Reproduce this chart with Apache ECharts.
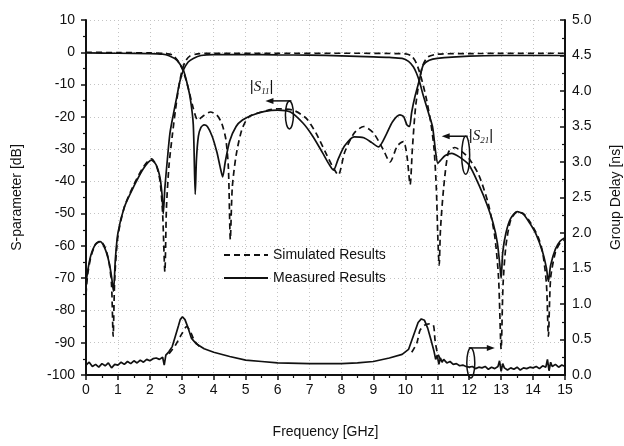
<!DOCTYPE html>
<html>
<head>
<meta charset="utf-8">
<script src="https://cdn.jsdelivr.net/npm/echarts@6/dist/echarts.min.js"></script>
<style>
  html, body { margin: 0; padding: 0; background: #fff; }
  #main { width: 624px; height: 446px; }
</style>
</head>
<body>
<div id="main"></div>
<script>
// measured |S21| (dB)
const s21MeasF = [0, 0.05, 0.15, 0.3, 0.45, 0.6, 0.72, 0.8, 0.86, 0.92, 1.0, 1.2, 1.5, 1.8, 2.05, 2.2, 2.32, 2.38, 2.42, 2.47, 2.55, 2.63, 2.74, 2.84, 2.94, 3.05, 3.2, 3.36, 3.6, 4, 5, 6, 7, 8, 9, 9.5, 9.9, 10.1, 10.25, 10.35, 10.44, 10.55, 10.7, 10.85, 10.95, 11.02, 11.1, 11.25, 11.45, 11.7, 12.0, 12.3, 12.55, 12.75, 12.88, 12.96, 13.0, 13.05, 13.15, 13.3, 13.5, 13.7, 13.9, 14.1, 14.3, 14.42, 14.48, 14.55, 14.7, 14.85, 15];
const s21Meas  = [-72, -68, -63, -59.5, -58.7, -61, -65, -69.5, -74, -64, -56, -48, -41.5, -36, -33.4, -35, -39, -44, -50, -42, -33, -25, -19, -14, -9, -5.5, -3, -1.9, -1, -0.7, -0.7, -0.8, -0.9, -1.1, -1.4, -1.6, -1.9, -2.8, -4.5, -6.5, -9, -13, -18, -23, -31, -34.4, -33.5, -32, -31.3, -32.5, -35, -41, -47, -53, -59, -66, -70, -62, -56, -51.5, -49.4, -50.2, -53, -56.5, -62, -67, -71, -66, -61, -58.5, -57.5];
// simulated |S21| (dB)
const s21SimF = [0, 0.05, 0.15, 0.3, 0.45, 0.6, 0.72, 0.8, 0.85, 0.9, 1.0, 1.2, 1.5, 1.8, 2.05, 2.2, 2.32, 2.4, 2.47, 2.52, 2.6, 2.7, 2.8, 2.9, 3.0, 3.1, 3.25, 3.5, 4, 6, 8, 10, 10.2, 10.35, 10.5, 10.65, 10.8, 10.9, 10.97, 11.02, 11.06, 11.1, 11.2, 11.35, 11.55, 11.8, 12.0, 12.3, 12.6, 12.8, 12.92, 13.0, 13.06, 13.15, 13.3, 13.5, 13.7, 13.9, 14.15, 14.3, 14.42, 14.48, 14.55, 14.7, 14.85, 15];
const s21Sim  = [-75, -69, -63.5, -59.5, -58.5, -60.5, -65, -72, -88, -70, -57, -48, -41, -35.5, -33, -35, -40, -50, -68, -48, -35, -26, -18, -11, -6, -3, -1.2, -0.5, -0.3, -0.3, -0.3, -0.5, -1.2, -3.5, -8, -14, -22, -30, -42, -58, -66, -55, -42, -31, -29.5, -31, -33, -38, -47, -57, -70, -92, -72, -60, -52, -49.5, -50, -52.5, -57, -62, -72, -88, -70, -62, -59, -58];
// measured |S11| (dB)
const s11MeasF = [0, 1, 2, 2.4, 2.6, 2.84, 2.95, 3.05, 3.15, 3.26, 3.36, 3.42, 3.46, 3.52, 3.6, 3.7, 3.8, 3.95, 4.1, 4.2, 4.28, 4.36, 4.5, 4.7, 4.9, 5.2, 5.6, 6.0, 6.4, 6.8, 7.1, 7.4, 7.6, 7.75, 7.9, 8.1, 8.4, 8.7, 8.95, 9.16, 9.4, 9.6, 9.83, 9.95, 10.05, 10.13, 10.2, 10.3, 10.44, 10.56, 10.75, 11.0, 12, 13, 14, 15];
const s11Meas  = [-0.2, -0.3, -0.4, -0.6, -1.1, -2.4, -3.8, -5.5, -9, -14, -22.5, -44, -33, -26, -23.3, -22.5, -23, -26, -31, -35.5, -38.6, -34, -27.5, -23, -21, -19.5, -18.3, -17.9, -18.5, -22, -26, -31, -34.5, -36.5, -33, -29, -26.2, -26.5, -28, -29.3, -25.5, -21.5, -19.4, -20, -22.5, -23, -18.5, -13.8, -8.6, -4, -2.5, -1.9, -1.2, -1.0, -1.0, -1.0];
// simulated |S11| (dB)
const s11SimF = [0, 1, 2, 2.5, 2.7, 2.9, 3.05, 3.2, 3.35, 3.5, 3.7, 3.9, 4.1, 4.25, 4.38, 4.46, 4.52, 4.58, 4.7, 4.88, 5.1, 5.5, 6.0, 6.5, 6.9, 7.2, 7.5, 7.7, 7.9, 8.1, 8.4, 8.7, 9.0, 9.3, 9.52, 9.75, 9.94, 10.05, 10.15, 10.22, 10.32, 10.45, 10.55, 10.7, 11, 12, 15];
const s11Sim  = [0, -0.1, -0.2, -0.4, -0.8, -3, -6, -11, -17, -21, -19.5, -18.5, -19.5, -22, -27, -36, -58, -42, -32, -24, -20, -18.5, -17.5, -18, -20.5, -25, -31, -35, -38, -31, -25, -23, -25, -30, -34, -29, -27.7, -32, -41, -30, -17, -8, -4, -1.5, -0.6, -0.4, -0.3];
// measured group delay (ns)
const gdMeasF = [0, 0.1, 0.2, 0.3, 0.4, 0.5, 0.6, 0.7, 0.8, 0.9, 1.0, 1.1, 1.2, 1.3, 1.4, 1.5, 1.6, 1.7, 1.8, 1.9, 2.0, 2.1, 2.2, 2.3, 2.4, 2.45, 2.5, 2.6, 2.7, 2.8, 2.9, 2.95, 3.02, 3.1, 3.2, 3.3, 3.45, 3.7, 4.0, 4.5, 5.0, 5.5, 6.0, 7.0, 8.0, 8.5, 9.0, 9.5, 9.9, 10.1, 10.25, 10.4, 10.5, 10.6, 10.7, 10.8, 10.9, 10.95, 11.0, 11.05, 11.1, 11.15, 11.2, 11.3, 11.4, 11.5, 11.6, 11.7, 11.8, 11.9, 12.0, 12.1, 12.2, 12.3, 12.4, 12.5, 12.6, 12.7, 12.8, 12.9, 12.95, 13.0, 13.05, 13.1, 13.2, 13.3, 13.4, 13.5, 13.6, 13.7, 13.8, 13.9, 14.0, 14.1, 14.2, 14.3, 14.4, 14.45, 14.5, 14.55, 14.6, 14.7, 14.8, 14.9, 15.0];
const gdMeas  = [0.14, 0.18, 0.12, 0.15, 0.11, 0.16, 0.13, 0.17, 0.10, 0.15, 0.14, 0.18, 0.15, 0.19, 0.16, 0.20, 0.17, 0.21, 0.18, 0.22, 0.20, 0.23, 0.24, 0.22, 0.25, 0.14, 0.28, 0.33, 0.40, 0.55, 0.70, 0.78, 0.82, 0.78, 0.66, 0.52, 0.44, 0.37, 0.32, 0.26, 0.21, 0.19, 0.17, 0.16, 0.16, 0.17, 0.19, 0.24, 0.29, 0.36, 0.55, 0.74, 0.79, 0.77, 0.66, 0.50, 0.33, 0.22, 0.28, 0.15, 0.24, 0.18, 0.22, 0.17, 0.19, 0.15, 0.16, 0.13, 0.14, 0.12, 0.11, 0.12, 0.09, 0.11, 0.10, 0.12, 0.08, 0.11, 0.09, 0.12, 0.20, 0.05, 0.16, 0.10, 0.07, 0.10, 0.08, 0.11, 0.07, 0.10, 0.09, 0.11, 0.10, 0.12, 0.09, 0.13, 0.11, 0.22, 0.06, 0.18, 0.12, 0.15, 0.11, 0.14, 0.12];
// simulated group delay (ns), only where it separates from the measurement
const gdSimF = [2.6, 2.8, 3.0, 3.15, 3.25, 3.4, 3.6, null, 10.2, 10.36, 10.46, 10.6, 10.75, 10.88, 10.93, 11.0, 11.1];
const gdSim  = [0.30, 0.42, 0.58, 0.68, 0.63, 0.48, 0.38, null, 0.32, 0.45, 0.63, 0.70, 0.72, 0.70, 0.49, 0.32, 0.22];

const xTicks = [0, 15, 1];
const dbTicks = [-100, 10, 10];
const gdTicks = [0, 5, 0.5];

const zip = (f, v) => f.map((x, i) => [x, v[i]]);
const ink = '#111';
const font = 'Liberation Sans, Arial, sans-serif';

const solid = { color: ink, width: 1.7, type: 'solid' };
const dashed = { color: ink, width: 1.7, type: [6, 4] };
const grid = { color: '#c4c4c4', type: [1, 3], width: 1 };

function line(name, data, style, yAxisIndex) {
  return {
    name: name, type: 'line', data: data, yAxisIndex: yAxisIndex,
    symbol: 'none', smooth: 0.25, connectNulls: false,
    lineStyle: style, itemStyle: { color: ink }, z: 3
  };
}

const chart = echarts.init(document.getElementById('main'), null, { renderer: 'canvas' });

const option = {
  animation: false,
  backgroundColor: '#fff',
  textStyle: { fontFamily: font, color: ink },
  grid: { left: 86, right: 59, top: 20, bottom: 71, containLabel: false, outerBoundsMode: 'none' },
  legend: {
    orient: 'vertical', left: 218, top: 243, itemGap: 9,
    itemWidth: 44, itemHeight: 14,
    data: ['Simulated Results', 'Measured Results'],
    itemStyle: { opacity: 0 },
    textStyle: { fontSize: 14, color: ink, fontFamily: font }
  },
  xAxis: {
    type: 'value', min: xTicks[0], max: xTicks[1], interval: xTicks[2],
    name: 'Frequency [GHz]', nameLocation: 'middle', nameGap: 50,
    nameTextStyle: { fontSize: 14, color: ink },
    axisLine: { onZero: false, lineStyle: { color: ink, width: 2 } },
    axisTick: { length: 5, lineStyle: { width: 1.5, color: ink } },
    minorTick: { show: true, splitNumber: 2, length: 3, lineStyle: { color: ink, width: 1.2 } },
    axisLabel: { fontSize: 14, color: ink, margin: 8 },
    splitLine: { show: true, lineStyle: grid }
  },
  yAxis: [{
    type: 'value', min: dbTicks[0], max: dbTicks[1], interval: dbTicks[2],
    name: 'S-parameter [dB]', nameLocation: 'middle', nameGap: 62, nameRotate: 90,
    nameTextStyle: { fontSize: 14, color: ink },
    axisLine: { show: true, onZero: false, lineStyle: { color: ink, width: 2 } },
    axisTick: { length: 5, lineStyle: { width: 1.5, color: ink } },
    minorTick: { show: true, splitNumber: 2, length: 3, lineStyle: { color: ink, width: 1.2 } },
    axisLabel: { fontSize: 14, color: ink, margin: 11 },
    splitLine: { show: true, lineStyle: grid }
  }, {
    type: 'value', position: 'right', min: gdTicks[0], max: gdTicks[1], interval: gdTicks[2],
    name: 'Group Delay [ns]', nameLocation: 'middle', nameGap: 44, nameRotate: 90,
    nameTextStyle: { fontSize: 14, color: ink },
    axisLine: { show: true, onZero: false, lineStyle: { color: ink, width: 2 } },
    axisTick: { inside: true, length: 5, lineStyle: { width: 1.5, color: ink } },
    minorTick: { show: true, splitNumber: 2, length: 3, lineStyle: { color: ink, width: 1.2 } },
    axisLabel: { fontSize: 14, color: ink, margin: 7, formatter: v => v.toFixed(1) },
    splitLine: { show: false }
  }],
  series: [
    line('Simulated Results', zip(s21SimF, s21Sim), dashed, 0),
    line('Simulated Results', zip(s11SimF, s11Sim), dashed, 0),
    line('Simulated Results', zip(gdSimF, gdSim), dashed, 1),
    line('Measured Results', zip(s21MeasF, s21Meas), solid, 0),
    line('Measured Results', zip(s11MeasF, s11Meas), solid, 0),
    Object.assign(line('Measured Results', zip(gdMeasF, gdMeas), solid, 1), { smooth: false })
  ]
};
chart.setOption(option);

// annotation callouts: [label, text GHz, text value, ellipse GHz, ellipse value, axis, arrow dir]
const notes = [
  ['11', 5.5, -10.8, 6.37, -19.4, 0, -1],
  ['21', 12.37, -26, 11.89, -31.9, 0, -1],
  [null, 0, 0, 12.05, 0.17, 1, 1]
];
const graphics = [];
notes.forEach(n => {
  const finder = n[5] === 0 ? { xAxisIndex: 0, yAxisIndex: 0 } : { xAxisIndex: 0, yAxisIndex: 1 };
  const c = chart.convertToPixel(finder, [n[3], n[4]]);
  const ry = n[5] === 0 ? (n[1] > 10 ? 19 : 14) : 15;
  graphics.push({ type: 'ellipse', shape: { cx: c[0], cy: c[1], rx: 4, ry: ry },
    style: { fill: 'none', stroke: ink, lineWidth: 1.5 }, z: 10 });
  const y0 = c[1] - ry;
  const x0 = c[0] + (n[6] < 0 ? 2 : -2);
  const x1 = x0 + n[6] * 22;
  graphics.push({ type: 'line', shape: { x1: x0, y1: y0, x2: x1, y2: y0 },
    style: { stroke: ink, lineWidth: 1.5 }, z: 10 });
  graphics.push({ type: 'polygon', shape: { points: [[x1 + n[6] * 4, y0], [x1 - n[6] * 4, y0 - 3], [x1 - n[6] * 4, y0 + 3]] },
    style: { fill: ink }, z: 10 });
  if (n[0]) {
    const t = chart.convertToPixel({ xAxisIndex: 0, yAxisIndex: 0 }, [n[1], n[2]]);
    graphics.push({ type: 'text', x: t[0], y: t[1], z: 10,
      style: { text: '|{s|S}{b|' + n[0] + '}|', fill: ink, font: '15px ' + font,
        align: 'center', verticalAlign: 'middle',
        rich: { s: { fontStyle: 'italic', fontSize: 15, fontFamily: 'Liberation Serif, serif' },
                b: { fontStyle: 'italic', fontSize: 9, fontFamily: 'Liberation Serif, serif', padding: [9, 0, 0, 0] } } } });
  }
});
chart.setOption({ graphic: graphics });
</script>
</body>
</html>
